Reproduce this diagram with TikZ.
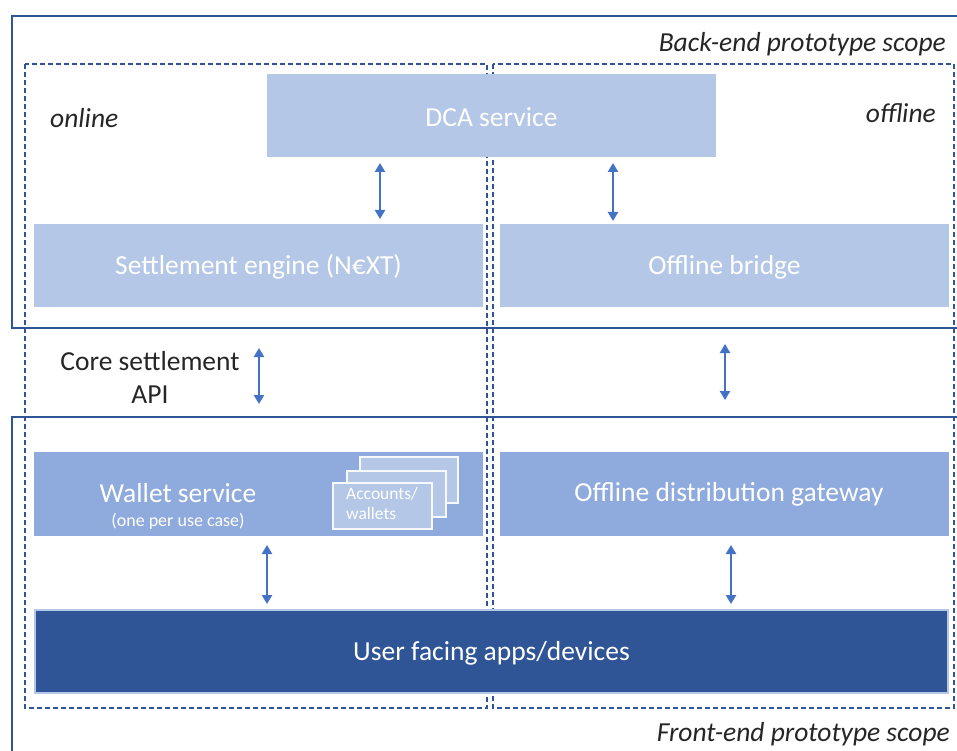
\documentclass[tikz,border=0pt]{standalone}
\usepackage{fontspec}
\setmainfont{Carlito}
\usetikzlibrary{arrows.meta}
\definecolor{lightbox}{HTML}{B4C7E7}
\definecolor{midbox}{HTML}{8FAADC}
\definecolor{darkbox}{HTML}{2F5597}
\definecolor{arrowc}{HTML}{4472C4}
\definecolor{scopec}{HTML}{2F5597}
\definecolor{txtc}{HTML}{262626}
\tikzset{
  x=1pt, y=-1pt,
  scopeline/.style={draw=scopec, line width=1.4pt},
  dashbox/.style={draw=scopec, line width=1.3pt, dash pattern=on 5pt off 3pt},
  boxtext/.style={text=white, font=\fontsize{27.5}{32}\selectfont, align=center},
  lbox/.style={fill=lightbox, draw=none},
  mbox/.style={fill=midbox, draw=none},
  card/.style={fill=lightbox, draw=white!90!lightbox, line width=1.2pt},
  biarrow/.style={draw=arrowc, line width=2.6pt, {Triangle[width=10pt,length=9pt]}-{Triangle[width=10pt,length=9pt]}},
  itlabel/.style={font=\fontsize{27.5}{32}\selectfont\itshape, text=txtc, inner sep=0pt},
}
\begin{document}
\begin{tikzpicture}
\useasboundingbox (0,0) rectangle (957,751);
\fill[white] (0,0) rectangle (957,751);
% scope boxes
\draw[scopeline] (970,16) -- (12,16) -- (12,328) -- (970,328);
\draw[scopeline] (970,417) -- (12,417) -- (12,760);
% dashed boxes (behind the boxes)
\draw[dashbox] (25,64) rectangle (487,708);
\draw[dashbox] (493,64) rectangle (954,708);
% boxes
\path[lbox] (267,74) rectangle (716,157);
\node[boxtext] (dca) at (491.5,117) {DCA service};
\path[lbox] (34,224) rectangle (483,307);
\node[boxtext] (settle) at (258.5,267) {Settlement engine (N€XT)};
\path[lbox] (500,224) rectangle (949,307);
\node[boxtext] (bridge) at (724.5,267) {Offline bridge};
\path[mbox] (34,452) rectangle (483,536);
\node[boxtext] (wallet) at (178,493) {Wallet service};
\node[text=white, font=\fontsize{18}{21}\selectfont] (walletsub) at (178,521) {(one per use case)};
\path[mbox] (500,452) rectangle (949,536);
\node[boxtext] (gateway) at (729,494) {Offline distribution gateway};
% cards
\path[card] (360,457) rectangle (458,503);
\path[card] (347,471) rectangle (446,517);
\path[card] (333,483) rectangle (432,529);
\node[text=white, font=\fontsize{17.5}{20}\selectfont, align=left, anchor=north west, inner sep=0pt] (cards) at (346,487) {Accounts/\\wallets};
% user facing
\path[fill=darkbox, draw=lightbox, line width=1.2pt] (35,610) rectangle (948,693);
\node[boxtext] (user) at (491.5,653) {User facing apps/devices};
% labels
\node[itlabel, anchor=east] (belabel) at (946,44) {Back-end prototype scope};
\node[itlabel, anchor=east] (felabel) at (950,734) {Front-end prototype scope};
\node[itlabel, anchor=west] (online) at (50,118) {online};
\node[itlabel, anchor=east] (offline) at (936,113) {offline};
\node[text=txtc, font=\fontsize{27.5}{33}\selectfont, align=center] (core) at (150,377) {Core settlement\\API};
% arrow anchor coordinates
\coordinate (a1t) at (380,163); \coordinate (a1b) at (380,219);
\coordinate (a2t) at (613,163); \coordinate (a2b) at (613,221);
\coordinate (a3t) at (259,348); \coordinate (a3b) at (259,404);
\coordinate (a4t) at (725,344); \coordinate (a4b) at (725,400);
\coordinate (a5t) at (267,545); \coordinate (a5b) at (267,604);
\coordinate (a6t) at (731,545); \coordinate (a6b) at (731,604);
\draw[biarrow] (a1t) -- (a1b);
\draw[biarrow] (a2t) -- (a2b);
\draw[biarrow] (a3t) -- (a3b);
\draw[biarrow] (a4t) -- (a4b);
\draw[biarrow] (a5t) -- (a5b);
\draw[biarrow] (a6t) -- (a6b);
\end{tikzpicture}
\end{document}
